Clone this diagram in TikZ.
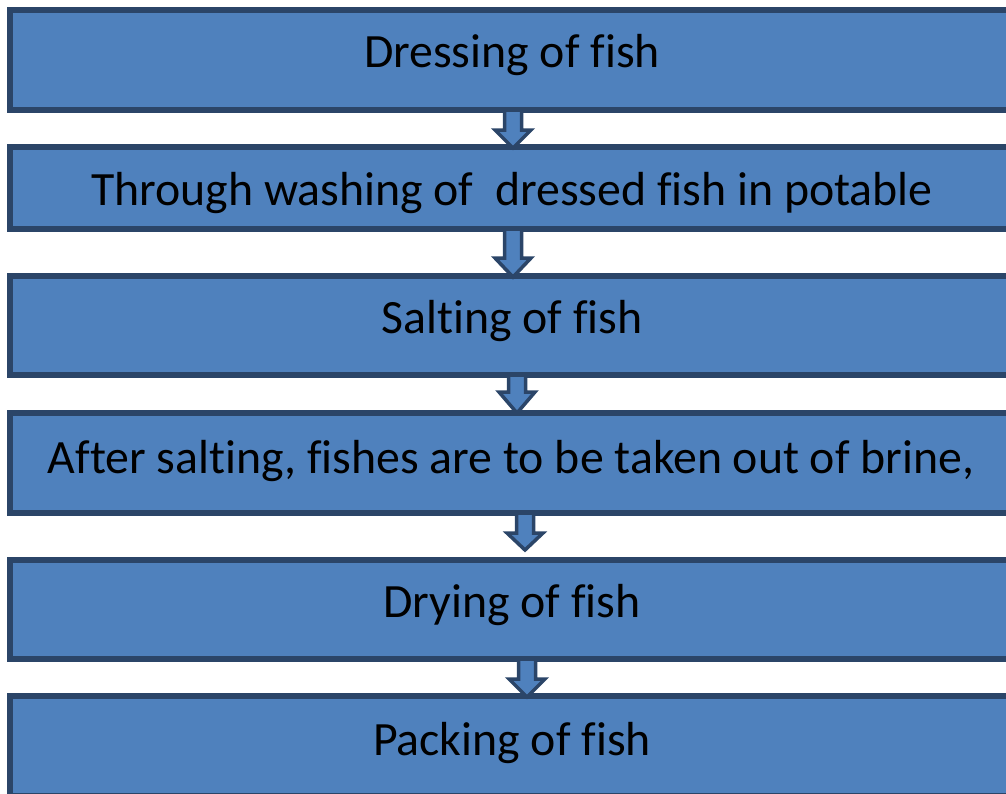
\documentclass[tikz,border=0pt]{standalone}
\usepackage{fontspec}
\setmainfont[Ligatures=NoCommon]{Carlito}
\usetikzlibrary{calc}
\definecolor{boxfill}{HTML}{4F81BD}
\definecolor{boxline}{HTML}{2B4568}
\newcommand\flowarrow[5]{%
  \draw[blockarrow]
    ($(#1.south)+(#3-8.5,0)$) -- ($(#2.north)+(#3-8.5,#4)$) --
    ($(#2.north)+(#3-18,#4)$) -- ($(#2.north)+(#3,#5)$) --
    ($(#2.north)+(#3+18,#4)$) -- ($(#2.north)+(#3+8.5,#4)$) --
    ($(#1.south)+(#3+8.5,0)$) -- cycle;}
\begin{document}
\begin{tikzpicture}[x=1pt,y=-1pt,
  stepbox/.style={rectangle, draw=boxline, fill=boxfill, line width=6pt,
    minimum width=1004pt, inner sep=0pt, outer sep=0pt},
  steptext/.style={anchor=base, font=\fontsize{47.8}{56}\selectfont,
    text=black, inner sep=0pt},
  blockarrow/.style={draw=boxline, fill=boxfill, line width=3.5pt, line join=miter}]
\useasboundingbox (0,0) rectangle (1006,793);
\begin{scope}
\clip (0,0) rectangle (1006,793);
\node[stepbox, minimum height=100pt] (b1) at (512,60) {};
\node[stepbox, minimum height=82pt] (b2) at (512,188) {};
\node[stepbox, minimum height=99pt] (b3) at (512,325.5) {};
\node[stepbox, minimum height=100pt] (b4) at (512,463) {};
\node[stepbox, minimum height=99pt] (b5) at (512,609.5) {};
\node[stepbox, minimum height=100pt] (b6) at (512,746) {};
\node[steptext] (t1) at (512,67) {Dressing of fish};
\node[steptext] (t2) at (512,205) {Through washing of\ \ dressed fish in potable};
\node[steptext] (t3) at (512,333) {Salting of fish};
\node[steptext] (t4) at (511,473) {After salting, fishes are to be taken out of brine,};
\node[steptext] (t5) at (512,617) {Drying of fish};
\node[steptext] (t6) at (512,755) {Packing of fish};
\flowarrow{b1}{b2}{1}{-17}{1}
\flowarrow{b2}{b3}{1}{-18}{1}
\flowarrow{b3}{b4}{5}{-21}{0}
\flowarrow{b4}{b5}{13}{-27}{-10}
\flowarrow{b5}{b6}{15}{-17}{1}
\end{scope}
\end{tikzpicture}
\end{document}
